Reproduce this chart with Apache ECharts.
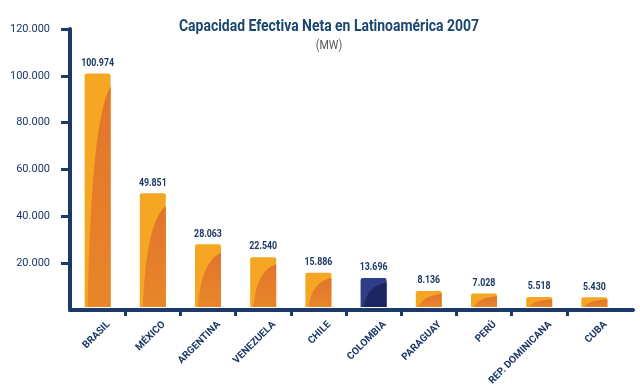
<!DOCTYPE html>
<html>
<head>
<meta charset="utf-8">
<script src="https://cdn.jsdelivr.net/npm/echarts@6/dist/echarts.min.js"></script>
<style>
html,body{margin:0;padding:0;background:#fff;}
#chart{width:640px;height:387px;}
</style>
</head>
<body>
<div id="chart"></div>
<script>
// ---- data ----
const categories = ['BRASIL', 'MÉXICO', 'ARGENTINA', 'VENEZUELA', 'CHILE', 'COLOMBIA', 'PARAGUAY', 'PERÚ', 'REP. DOMINICANA', 'CUBA'];
const values = [100974, 49851, 28063, 22540, 15886, 13696, 8136, 7028, 5518, 5430];
const yTicks = [20000, 40000, 60000, 80000, 100000, 120000];
const highlighted = 'COLOMBIA';
const titleText = 'Capacidad Efectiva Neta en Latinoamérica 2007';
const subtitleText = '(MW)';

// ---- helpers ----
const NAVY = '#1C3766';
const AXIS = '#1B3A6A';
const FONT = "Roboto, 'Liberation Sans', Arial, sans-serif";
function fmt(v) { return String(v).replace(/\B(?=(\d{3})+(?!\d))/g, '.'); }
function textWidth(text, font) {
  const ctx = document.createElement('canvas').getContext('2d');
  ctx.font = font;
  return ctx.measureText(text).width;
}
const TITLE_FONT = 'bold 16px ' + FONT;
const titleScale = 300 / textWidth(titleText, TITLE_FONT);

const barData = values.map((v, i) => [i, v]);
const xTickVals = categories.slice(1).map((_, i) => i + 0.5);
const xLabelVals = categories.map((_, i) => i + 0.2);

const chart = echarts.init(document.getElementById('chart'), null, {renderer: 'canvas'});

function renderBar(params, api) {
  const xv = api.value(0), yv = api.value(1);
  const top = api.coord([xv, yv]);
  const base = api.coord([xv, 0]);
  const w = 26;
  const x0 = top[0] - w / 2, x1 = top[0] + w / 2;
  const y0 = top[1], y1 = base[1] - 3;
  const h = y1 - y0;
  const isHl = categories[params.dataIndex] === highlighted;
  const lightCol = isHl ? '#2D3D86' : '#F5A623';
  const darkCol = isHl
    ? '#1D2561'
    : new echarts.graphic.LinearGradient(0, 0, 0, 1, [{offset: 0, color: '#E2742C'}, {offset: 1, color: '#E8872A'}]);
  const rx = w - 3;
  const ry = Math.max(h - Math.min(12, h * 0.12) - 1, 1);
  const c = 0.85;
  const pts = [[x1, y1]];
  const N = 24;
  for (let k = 0; k <= N; k++) {
    const t = k / N;
    const a = (1 - t) * (1 - t), b = 2 * t * (1 - t), d = t * t;
    const dx = b * c + d;
    const dy = a + b * c;
    pts.push([x1 - dx * rx, y1 - dy * ry]);
  }
  return {
    type: 'group',
    children: [
      {type: 'rect', shape: {x: x0, y: y0, width: w, height: h, r: [2, 2, 0, 0]}, style: {fill: lightCol}},
      {type: 'polygon', shape: {points: pts}, style: {fill: darkCol}},
      {type: 'text', x: top[0], y: y0 - 5, scaleX: 0.8, style: {
        text: fmt(yv), x: 0, y: 0, align: 'center', verticalAlign: 'bottom',
        fill: NAVY, font: 'bold 11px ' + FONT
      }}
    ]
  };
}

chart.setOption({
  backgroundColor: '#ffffff',
  animation: false,
  graphic: [{
    type: 'text', x: 329, y: 27, scaleX: titleScale,
    style: {text: titleText, x: 0, y: 0, align: 'center', verticalAlign: 'middle', font: TITLE_FONT, fill: '#1A4670'}
  }, {
    type: 'text', x: 329, y: 46, scaleX: 0.9,
    style: {text: subtitleText, x: 0, y: 0, align: 'center', verticalAlign: 'middle', font: '12px ' + FONT, fill: '#555555'}
  }],
  grid: {left: 70, right: 7, top: 29, bottom: 77, containLabel: false, outerBoundsMode: 'none'},
  xAxis: {
    type: 'value', min: -0.5, max: 9.7,
    axisLine: {show: true, onZero: false, lineStyle: {color: AXIS, width: 4}},
    axisTick: {show: true, customValues: xTickVals, length: 6, lineStyle: {color: AXIS, width: 3}},
    axisLabel: {
      show: true, customValues: xLabelVals, rotate: 45, margin: 13,
      formatter: v => categories[Math.round(v)] || '',
      fontFamily: FONT, fontSize: 10, fontWeight: 'bold', color: NAVY
    },
    splitLine: {show: false}
  },
  yAxis: {
    type: 'value', min: 0, max: 120000, interval: 20000,
    axisLine: {show: true, onZero: false, lineStyle: {color: AXIS, width: 4}},
    axisTick: {show: true, customValues: yTicks, length: 9, lineStyle: {color: AXIS, width: 3}},
    axisLabel: {
      show: true, customValues: yTicks, margin: 20,
      formatter: v => fmt(v),
      fontFamily: FONT, fontSize: 11, color: NAVY
    },
    splitLine: {show: false}
  },
  series: [{
    type: 'custom',
    renderItem: renderBar,
    data: barData,
    encode: {x: 0, y: 1},
    clip: false
  }]
});
</script>
</body>
</html>
